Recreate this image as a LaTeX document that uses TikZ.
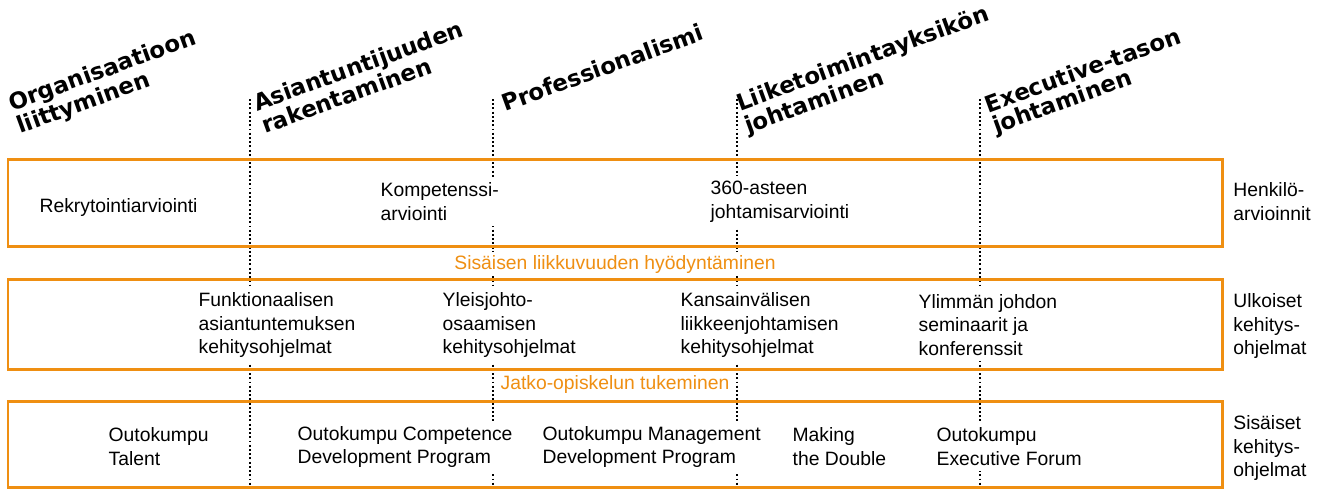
\documentclass[tikz,border=0pt]{standalone}
\usepackage{fontspec}
\setmainfont{Liberation Sans}
\newfontfamily\headfont{DejaVu Sans}
\usetikzlibrary{positioning}
\definecolor{okorange}{RGB}{239,143,18}
\tikzset{
  rowbox/.style={draw=okorange, line width=1.7pt},
  stage/.style={draw=black, line width=1.1pt, dash pattern=on 1.1pt off 1.3pt},
  head/.style={anchor=base west, rotate=20, align=left, inner sep=0pt,
    font=\headfont\bfseries\fontsize{13}{12.5}\selectfont},
  cell/.style={anchor=west, align=left, fill=white, inner sep=3pt,
    font=\fontsize{11}{13.6}\selectfont},
  bridge/.style={fill=white, inner sep=1.5pt, text=okorange,
    font=\fontsize{11}{13.6}\selectfont},
  side/.style={anchor=west, align=left, inner sep=0pt,
    font=\fontsize{11}{13.6}\selectfont},
}
\begin{document}
\begin{tikzpicture}[x=0.02cm, y=-0.02cm]
  \useasboundingbox (0,0) rectangle (1327,488);
  % stage borders
  \foreach \x [count=\i] in {250,493,737,980} {
    \coordinate (top\i) at (\x,99);
    \coordinate (bot\i) at (\x,488);
    \draw[stage] (top\i) -- (bot\i);
  }
  % the three rows
  \draw[rowbox] (8,159) rectangle (1222,246);
  \draw[rowbox] (8,279) rectangle (1222,369);
  \draw[rowbox] (8,401) rectangle (1222,487);

  % career stages (anchored on the last line)
  \node[head] (orgjoin) at (20,134) {Organisaatioon\\liittyminen};
  \node[head] (expert) at (265,134) {Asiantuntijuuden\\rakentaminen};
  \node[head] (prof) at (505,112) {Professionalismi};
  \node[head] (bizlead) at (748,134) {Liiketoimintayksikön\\johtaminen};
  \node[head] (exec) at (996,134) {Executive-tason\\johtaminen};

  % assessments
  \node[cell] (recruit) at (34,207) {Rekrytointiarviointi};
  \node[cell] (compet) at (375,202) {Kompetenssi-\\arviointi};
  \node[cell] (feedback) at (705,202) {360-asteen\\johtamisarviointi};
  \node[side] (assess) at (1233,202) {Henkilö-\\arvioinnit};

  \node[bridge] (mobility) at (615,264) {Sisäisen liikkuvuuden hyödyntäminen};

  % external programmes
  \node[cell] (funct) at (193,325) {Funktionaalisen\\asiantuntemuksen\\kehitysohjelmat};
  \node[cell] (general) at (437,325) {Yleisjohto-\\osaamisen\\kehitysohjelmat};
  \node[cell] (intl) at (675,325) {Kansainvälisen\\liikkeenjohtamisen\\kehitysohjelmat};
  \node[cell] (senior) at (913,325) {Ylimmän johdon\\seminaarit ja\\konferenssit};
  \node[side] (external) at (1233,326) {Ulkoiset\\kehitys-\\ohjelmat};

  \node[bridge] (studies) at (615,384) {Jatko-opiskelun tukeminen};

  % internal programmes
  \node[cell] (talent) at (103,447) {Outokumpu\\Talent};
  \node[cell] (ocdp) at (292,447) {Outokumpu Competence\\Development Program};
  \node[cell] (omdp) at (537,447) {Outokumpu Management\\Development Program};
  \node[cell] (double) at (787,447) {Making\\the Double};
  \node[cell] (forum) at (931,447) {Outokumpu\\Executive Forum};
  \node[side] (internal) at (1233,448) {Sisäiset\\kehitys-\\ohjelmat};
\end{tikzpicture}
\end{document}
